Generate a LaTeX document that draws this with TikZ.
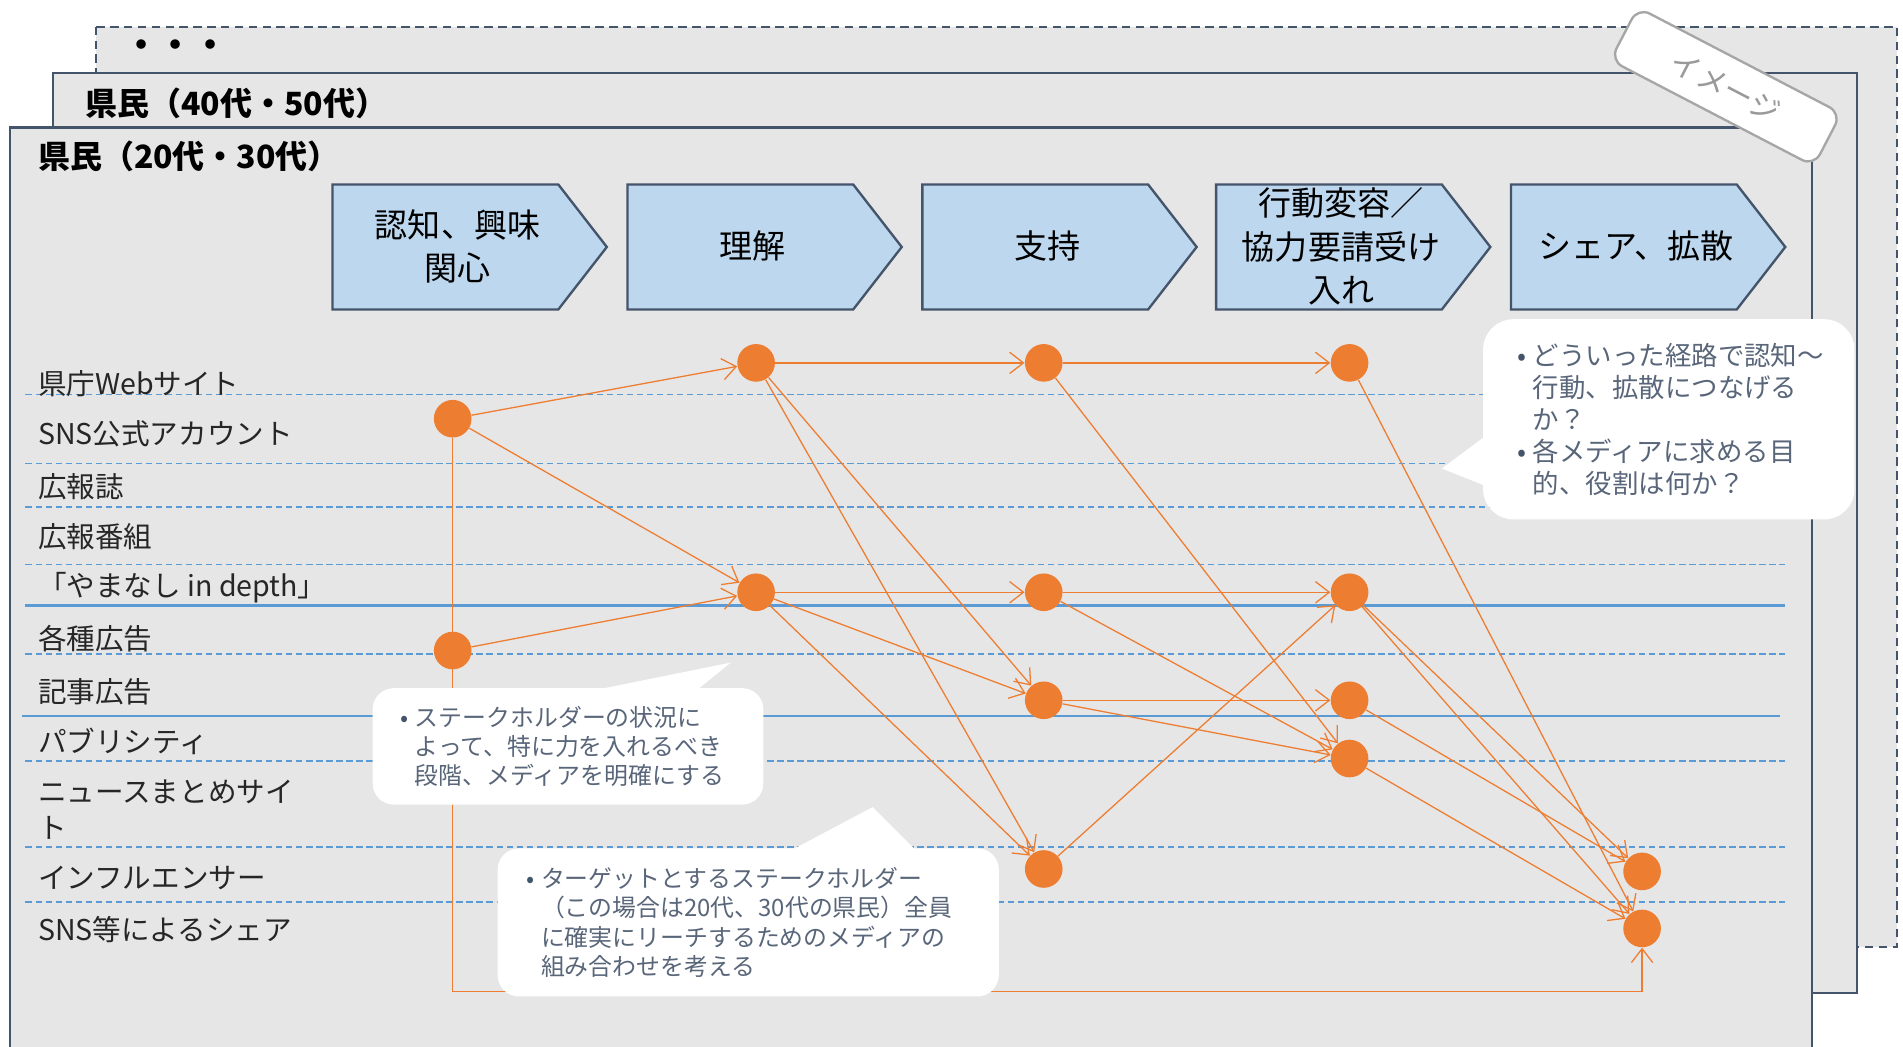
\documentclass[tikz,border=0pt]{standalone}
\usepackage{fontspec}
\setmainfont{Noto Sans CJK JP}
\usepackage{tikz}
\usetikzlibrary{arrows.meta}

\definecolor{panelgray}{HTML}{E7E6E6}
\definecolor{slate}{HTML}{44546A}
\definecolor{stageblue}{HTML}{BDD7EE}
\definecolor{dotorange}{HTML}{ED7D31}
\definecolor{rowblue}{HTML}{5B9BD5}
\definecolor{notetext}{HTML}{59667A}
\definecolor{stampgray}{HTML}{A6A6A6}

\newcommand{\bul}{\makebox[0.6em][l]{\textcolor{slate}{•}}}
\newcommand{\ind}{\hspace*{0.6em}}

\begin{document}
\begin{tikzpicture}[x=0.02cm,y=-0.02cm,
    panel/.style={fill=panelgray,draw=slate,line width=1pt},
    rowline/.style={draw=rowblue,line width=0.8pt,dash pattern=on 3pt off 1.7pt},
    rowsep/.style={draw=rowblue,line width=1.2pt},
    stagebox/.style={fill=stageblue,draw=slate,line width=1.1pt},
    stagetext/.style={align=center,inner sep=0pt,font=\fontsize{15.5}{20.5}\selectfont},
    title/.style={anchor=west,inner sep=0pt,font=\fontsize{15}{18}\selectfont\bfseries},
    medialabel/.style={anchor=west,inner sep=0pt,align=left,text=black!85,font=\fontsize{13.4}{16.5}\selectfont},
    dot/.style={circle,fill=dotorange,minimum size=0.62cm,inner sep=0pt},
    flow/.style={draw=dotorange,line width=0.6pt,-{Straight Barb[length=6.5pt,width=10pt]}},
    note/.style={fill=white,text=notetext,align=left,inner ysep=0pt},
    stamp/.style={fill=white,draw=stampgray,line width=1.1pt,rounded corners=0.22cm,
        minimum width=3.78cm,minimum height=0.98cm,text=black!40,font=\fontsize{14}{14}\selectfont}]

    \fill[white] (0,0) rectangle (1568,862);
    \useasboundingbox (0,0) rectangle (1568,862);

    \draw[panel,dash pattern=on 4pt off 2.5pt] (79,22) rectangle (1563,780);
    \draw[panel] (44,60) rectangle (1530,818);
    \draw[panel] (8,105) rectangle (1493,880);
    \node[title,anchor=center,font=\fontsize{16}{16}\selectfont\bfseries] (more) at (145,40) {・・・};
    \node[title] (group2) at (70,85) {県民（40代・50代）};
    \node[title] (group1) at (31,129) {県民（20代・30代）};

    \foreach \i/\L/\t in {1/274/{認知、興味\\関心},2/517/理解,3/760/支持,
        4/1002/{行動変容／\\協力要請受け\\入れ},5/1245/{シェア、拡散}}{
        \draw[stagebox] (\L,152) -- (\L+186,152) -- (\L+226,203.5) -- (\L+186,255) -- (\L,255) -- cycle;
        \node[stagetext] (stage\i) at (\L+103,203) {\t};
    }

    \foreach \y in {325,382,418,465,539,627,698,743}
        \draw[rowline] (21,\y) -- (1471,\y);
    \draw[rowsep] (21,499) -- (1471,499);
    \draw[rowsep] (18,590) -- (1467,590);

    \foreach \y/\t in {316/県庁Webサイト,357.6/SNS公式アカウント,401/広報誌,442/広報番組,
        484.5/「やまなし in depth」,526/各種広告,570/記事広告,611/パブリシティ,
        667/{ニュースまとめサイ\\ト},723/インフルエンサー,766/SNS等によるシェア}
        \node[medialabel] at (31,\y) {\t};

    \node[dot] (a1) at (373,345) {};
    \node[dot] (a2) at (373,536) {};
    \node[dot] (b1) at (623,299) {};
    \node[dot] (b2) at (623,488) {};
    \node[dot] (c1) at (860,299) {};
    \node[dot] (c2) at (860,488) {};
    \node[dot] (c3) at (860,577) {};
    \node[dot] (c4) at (860,716) {};
    \node[dot] (d1) at (1112,299) {};
    \node[dot] (d2) at (1112,488) {};
    \node[dot] (d3) at (1112,577) {};
    \node[dot] (d4) at (1112,625) {};
    \node[dot] (e1) at (1353,718) {};
    \node[dot] (e2) at (1353,765) {};

    \foreach \s/\e in {a1/b1,a1/b2,a2/b2,b1/c1,b1/c3,b1/c4,b2/c2,b2/c3,b2/c4,
        c1/d1,c1/d4,c2/d2,c2/d4,c3/d3,c3/d4,c4/d2,d1/e2,d2/e1,d2/e2,d3/e1,d4/e2}
        \draw[flow] (\s) -- (\e);
    \coordinate (turn) at (373,817);
    \draw[flow] (a1) -- (turn) -| (e2);

    \fill[white] (1223,360) -- (1188,386) -- (1223,400) -- cycle;
    \node[note,rounded corners=0.5cm,minimum height=3.3cm,text width=5.0cm,inner xsep=0.56cm,
        font=\fontsize{12.4}{15}\selectfont] (noteflow) at (1375,345.5)
        {\bul どういった経路で認知〜\\\ind 行動、拡散につなげる\\\ind か？\\
         \bul 各メディアに求める目\\\ind 的、役割は何か？};

    \fill[white] (493,568) -- (602,546) -- (575,568) -- cycle;
    \node[note,rounded corners=0.35cm,minimum height=1.92cm,text width=5.52cm,inner xsep=0.46cm,
        font=\fontsize{11.2}{13.7}\selectfont] (notefocus) at (468,615)
        {\bul ステークホルダーの状況に\\\ind よって、特に力を入れるべき\\\ind 段階、メディアを明確にする};

    \fill[white] (653,700) -- (719,665) -- (754,700) -- cycle;
    \node[note,rounded corners=0.35cm,minimum height=2.44cm,text width=7.3cm,inner xsep=0.48cm,
        font=\fontsize{11.2}{13.7}\selectfont] (notereach) at (616.5,760)
        {\bul ターゲットとするステークホルダー\\\ind （この場合は20代、30代の県民）全員\\
         \ind に確実にリーチするためのメディアの\\\ind 組み合わせを考える};

    \node[stamp,rotate=-27.5] (stamp) at (1422,71.5) {イメージ};
\end{tikzpicture}
\end{document}
